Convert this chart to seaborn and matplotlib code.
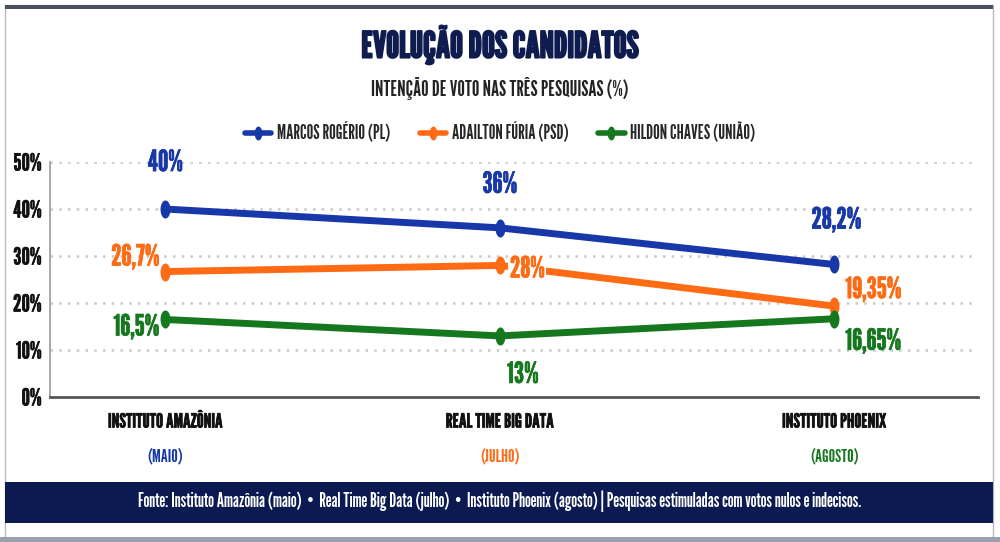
import matplotlib
matplotlib.use("Agg")
import matplotlib.pyplot as plt
import seaborn as sns
import pandas as pd
from matplotlib import font_manager
from matplotlib.patches import Rectangle
from matplotlib.lines import Line2D
from matplotlib.path import Path
import matplotlib.patheffects as pe
import matplotlib.transforms as mtransforms
import numpy as np

# ---------------- data ----------------
surveys = ["INSTITUTO AMAZÔNIA", "REAL TIME BIG DATA", "INSTITUTO PHOENIX"]
months = ["(MAIO)", "(JULHO)", "(AGOSTO)"]
candidates = ["MARCOS ROGÉRIO (PL)", "ADAILTON FÚRIA (PSD)", "HILDON CHAVES (UNIÃO)"]
marcos = [40.0, 36.0, 28.2]
adailton = [26.7, 28.0, 19.35]
hildon = [16.5, 13.0, 16.65]
marcos_labels = ["40%", "36%", "28,2%"]
adailton_labels = ["26,7%", "28%", "19,35%"]
hildon_labels = ["16,5%", "13%", "16,65%"]
y_ticks = [0, 10, 20, 30, 40, 50]
y_tick_labels = ["0%", "10%", "20%", "30%", "40%", "50%"]
source_text = ("Fonte: Instituto Amazônia (maio)  •  Real Time Big Data (julho)  •  "
               "Instituto Phoenix (agosto) | Pesquisas estimuladas com votos nulos e indecisos.")

# ---------------- style ----------------
sns.set_theme(style="white")
avail = {f.name for f in font_manager.fontManager.ttflist}
COND = "DejaVu Sans"
for cand in ["League Gothic", "Oswald", "Roboto Condensed", "Barlow Condensed"]:
    if cand in avail:
        COND = cand
        break
plt.rcParams["font.family"] = [COND, "DejaVu Sans"]

BLUE = "#1837a8"
ORANGE = "#ff6b14"
GREEN = "#16781e"
NAVY = "#0f1c50"
colors = [BLUE, ORANGE, GREEN]


def bold(c, w=0.9):
    return [pe.withStroke(linewidth=w, foreground=c)]


# vertical ellipse marker
t = np.linspace(0, 2 * np.pi, 60)
ell = Path(np.column_stack([0.55 * np.cos(t), np.sin(t)]), closed=True)

rows = []
for cand, vals in zip(candidates, [marcos, adailton, hildon]):
    for i, v in enumerate(vals):
        rows.append({"pos": i, "survey": surveys[i], "cand": cand, "val": v})
df = pd.DataFrame(rows)

fig = plt.figure(figsize=(10, 5.42), dpi=100)
fig.patch.set_facecolor("white")
ax = fig.add_axes([0.05, 0.2675, 0.928, 0.4335])

sns.lineplot(data=df, x="pos", y="val", hue="cand", palette=colors,
             hue_order=candidates, marker=ell, markersize=13, linewidth=5,
             markeredgewidth=0, ax=ax, legend=False, zorder=3)

ax.set_xlim(-0.345, 2.43)
ax.set_ylim(0, 50)
ax.set_yticks(y_ticks)
ax.set_yticklabels(y_tick_labels, fontsize=17, color="#111111")
for tl in ax.get_yticklabels():
    tl.set_path_effects(bold("#111111", 0.4))
ax.set_xticks([0, 1, 2])
ax.set_xticklabels([])
ax.tick_params(axis="x", length=3, color="#888888", width=1)
ax.tick_params(axis="y", length=0, pad=6)
ax.set_xlabel("")
ax.set_ylabel("")
for y in y_ticks[1:]:
    ax.axhline(y, color="#c8c8c8", linestyle=(0, (1, 2.5)), linewidth=1.8, zorder=0)
for s in ["top", "right"]:
    ax.spines[s].set_visible(False)
ax.spines["left"].set_color("#9a9a9a")
ax.spines["left"].set_linewidth(1.2)
ax.spines["bottom"].set_color("#555555")
ax.spines["bottom"].set_linewidth(2)

# data labels (offsets in pixels: style, not data)
label_sets = [marcos_labels, adailton_labels, hildon_labels]
value_sets = [marcos, adailton, hildon]
offsets = [
    [(0, 46, "center"), (0, 43, "center"), (2, 44, "center")],
    [(-6, 14, "right"), (10, -4, "left"), (11, 16, "left")],
    [(-6, -8, "right"), (23, -39, "center"), (11, -23, "left")],
]
for labels, vals, offs, c in zip(label_sets, value_sets, offsets, colors):
    for i, (lab, v, (dx, dy, ha)) in enumerate(zip(labels, vals, offs)):
        bbox = None
        if lab == "28%":
            bbox = dict(facecolor="white", edgecolor="none", pad=1)
        ax.annotate(lab, (i, v), xytext=(dx, dy), textcoords="offset pixels",
                    ha=ha, va="center", fontsize=21,
                    color=c, zorder=5, bbox=bbox, annotation_clip=False,
                    path_effects=bold(c, 0.5))

# x category labels
trans = mtransforms.blended_transform_factory(ax.transData, fig.transFigure)
for i, (s, m, c) in enumerate(zip(surveys, months, colors)):
    ax.text(i, 1 - 422 / 542, s, transform=trans, ha="center", va="center",
            fontsize=14, color="#111111", path_effects=bold("#111111", 0.5))
    ax.text(i, 1 - 457 / 542, m, transform=trans, ha="center", va="center",
            fontsize=13, color=c)

# titles
fig.text(0.5, 1 - 45 / 542, "EVOLUÇÃO DOS CANDIDATOS", ha="center", va="center",
         fontsize=26, color=NAVY, path_effects=bold(NAVY, 1.4))
fig.text(0.5, 1 - 89 / 542, "INTENÇÃO DE VOTO NAS TRÊS PESQUISAS (%)", ha="center",
         va="center", fontsize=15, color="#222222")

# legend
handles = [Line2D([0], [0], color=c, lw=4, marker=ell, markersize=10, markeredgewidth=0)
           for c in colors]
fig.legend(handles, candidates, loc="center", bbox_to_anchor=(0.5, 1 - 133 / 542),
           ncol=3, frameon=False, fontsize=13.5, handlelength=1.4, columnspacing=1.6,
           handletextpad=0.3)

# frame decorations
fig.add_artist(Rectangle((0.005, 0.005), 0.988, 0.985, transform=fig.transFigure,
                         fill=False, edgecolor="#b5b9c4", linewidth=1))
fig.add_artist(Rectangle((0.005, 1 - 9 / 542), 0.988, 4 / 542, transform=fig.transFigure,
                         facecolor="#4a4f5e", edgecolor="none"))
fig.add_artist(Rectangle((0.0, 0.0), 1.0, 5 / 542, transform=fig.transFigure,
                         facecolor="#9aa0ad", edgecolor="none"))
fig.add_artist(Rectangle((0.005, 1 - 523 / 542), 0.988, 41 / 542, transform=fig.transFigure,
                         facecolor="#0b1b52", edgecolor="none"))
fig.text(0.5, 1 - 501 / 542, source_text, ha="center", va="center",
         fontsize=13.5, color="white")

fig.savefig("out.png", dpi=100, facecolor="white")
